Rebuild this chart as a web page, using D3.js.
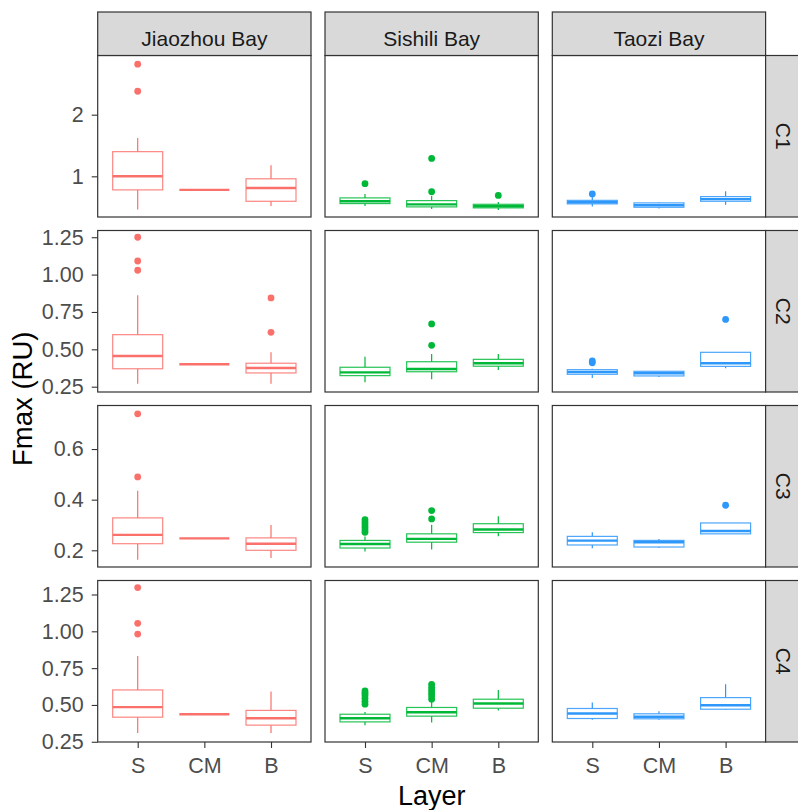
<!DOCTYPE html>
<html><head><meta charset="utf-8">
<script src="https://cdn.jsdelivr.net/npm/d3@7"></script>
<style>body{margin:0;background:#fff}svg{display:block;font-family:"Liberation Sans",Arial,sans-serif}</style>
</head><body><div id="chart"></div>
<script>
const bays = ["Jiaozhou Bay", "Sishili Bay", "Taozi Bay"];
const components = ["C1", "C2", "C3", "C4"];
const layers = ["S", "CM", "B"];
const bayColors = ["#FA716B", "#00B838", "#2E97FA"];

// each: [whiskerLow, q1, median, q3, whiskerHigh] for layers S, CM, B per bay
const statsC1 = [
  [[0.46, 0.78, 1.00, 1.40, 1.62], [0.78, 0.78, 0.78, 0.78, 0.78], [0.52, 0.595, 0.81, 0.96, 1.18]],
  [[0.52, 0.558, 0.595, 0.65, 0.715], [0.47, 0.504, 0.545, 0.606, 0.68], [0.455, 0.488, 0.515, 0.546, 0.585]],
  [[0.51, 0.553, 0.58, 0.61, 0.67], [0.476, 0.498, 0.53, 0.569, 0.575], [0.54, 0.595, 0.63, 0.671, 0.757]]
];
const outliersC1 = [
  [[2.38, 2.82], [], []],
  [[0.88], [0.75, 1.29], [0.69]],
  [[0.715], [], []]
];
const statsC2 = [
  [[0.27, 0.37, 0.455, 0.598, 0.862], [0.40, 0.40, 0.40, 0.40, 0.40], [0.27, 0.342, 0.375, 0.407, 0.48]],
  [[0.28, 0.324, 0.346, 0.38, 0.45], [0.30, 0.35, 0.368, 0.417, 0.469], [0.362, 0.387, 0.407, 0.433, 0.469]],
  [[0.308, 0.333, 0.348, 0.364, 0.37], [0.315, 0.322, 0.34, 0.353, 0.355], [0.373, 0.386, 0.407, 0.48, 0.48]]
];
const outliersC2 = [
  [[1.029, 1.091, 1.25], [], [0.614, 0.844]],
  [[], [0.527, 0.67], []],
  [[0.41, 0.422], [], [0.70]]
];
const statsC3 = [
  [[0.163, 0.226, 0.261, 0.328, 0.435], [0.247, 0.247, 0.247, 0.247, 0.247], [0.17, 0.20, 0.226, 0.249, 0.30]],
  [[0.195, 0.209, 0.225, 0.239, 0.254], [0.203, 0.232, 0.245, 0.265, 0.301], [0.255, 0.27, 0.282, 0.305, 0.334]],
  [[0.208, 0.221, 0.238, 0.255, 0.271], [0.21, 0.213, 0.232, 0.239, 0.245], [0.265, 0.265, 0.276, 0.308, 0.308]]
];
const outliersC3 = [
  [[0.49, 0.739], [], []],
  [[0.271, 0.28, 0.29, 0.30, 0.31, 0.321], [0.324, 0.357], []],
  [[], [], [0.378]]
];
const statsC4 = [
  [[0.309, 0.417, 0.485, 0.602, 0.832], [0.437, 0.437, 0.437, 0.437, 0.437], [0.309, 0.363, 0.41, 0.463, 0.591]],
  [[0.363, 0.385, 0.41, 0.437, 0.453], [0.381, 0.424, 0.45, 0.483, 0.523], [0.463, 0.478, 0.51, 0.539, 0.602]],
  [[0.399, 0.408, 0.442, 0.476, 0.517], [0.399, 0.406, 0.42, 0.44, 0.458], [0.465, 0.471, 0.498, 0.55, 0.64]]
];
const outliersC4 = [
  [[0.981, 1.054, 1.297], [], []],
  [[0.505, 0.525, 0.545, 0.565, 0.58, 0.595], [0.539, 0.56, 0.58, 0.60, 0.62, 0.64], []],
  [[], [], []]
];
const yDomains = [[0.34, 2.96], [0.2145, 1.295], [0.134, 0.772], [0.2485, 1.345]];
const yTicks = [[1, 2], [0.25, 0.5, 0.75, 1.0, 1.25], [0.2, 0.4, 0.6], [0.25, 0.5, 0.75, 1.0, 1.25]];
const yTickFormats = ["d", ".2f", ".1f", ".2f"];

const allStats = [statsC1, statsC2, statsC3, statsC4];
const allOutliers = [outliersC1, outliersC2, outliersC3, outliersC4];

(function () {
const W = 798, H = 810;
const x0 = 97.7, y0 = 55.5, pw = 213.3, ph = 161.5, hgap = 14, vgap = 13.5;
const stripH = 43.5, rightStripW = 35;
const fontFam = "Liberation Sans, Arial, sans-serif";

const svg = d3.select("#chart").append("svg").attr("width", W).attr("height", H);

const x = d3.scalePoint().domain(layers).range([0, pw]).padding(0.6);
const boxW = x.step() * 0.75;
const border = "#333333";

components.forEach((comp, r) => {
  const py = y0 + r * (ph + vgap);
  const y = d3.scaleLinear().domain(yDomains[r]).range([ph, 0]);
  bays.forEach((bay, c) => {
    const px = x0 + c * (pw + hgap);
    const g = svg.append("g").attr("transform", `translate(${px},${py})`);
    g.append("rect").attr("width", pw).attr("height", ph).attr("fill", "#fff");
    const col = bayColors[c];
    layers.forEach((lay, k) => {
      const s = allStats[r][c][k];
      const cx = x(lay);
      const bg = g.append("g");
      bg.append("line").attr("x1", cx).attr("x2", cx).attr("y1", y(s[3])).attr("y2", y(s[4]))
        .attr("stroke", col).attr("stroke-width", 1.2);
      bg.append("line").attr("x1", cx).attr("x2", cx).attr("y1", y(s[1])).attr("y2", y(s[0]))
        .attr("stroke", col).attr("stroke-width", 1.2);
      bg.append("rect").attr("x", cx - boxW / 2).attr("width", boxW)
        .attr("y", y(s[3])).attr("height", Math.max(0, y(s[1]) - y(s[3])))
        .attr("fill", "#fff").attr("stroke", col).attr("stroke-width", 1.2).attr("stroke-opacity", 0.85);
      bg.append("line").attr("x1", cx - boxW / 2).attr("x2", cx + boxW / 2)
        .attr("y1", y(s[2])).attr("y2", y(s[2])).attr("stroke", col).attr("stroke-width", 2.4);
      bg.selectAll("circle").data(allOutliers[r][c][k]).join("circle")
        .attr("cx", cx).attr("cy", d => y(d)).attr("r", 3.4).attr("fill", col);
    });
    g.append("rect").attr("width", pw).attr("height", ph).attr("fill", "none")
      .attr("stroke", border).attr("stroke-width", 1.2);

    if (c === 0) {
      const ya = g.append("g").call(d3.axisLeft(y).tickValues(yTicks[r]).tickFormat(d3.format(yTickFormats[r])).tickSize(6).tickPadding(8));
      ya.select(".domain").remove();
      ya.selectAll("line").attr("stroke", border).attr("stroke-width", 1.1);
      ya.selectAll("text").attr("fill", "#4d4d4d").style("font-size", "21.5px").style("font-family", fontFam);
    }
    if (r === components.length - 1) {
      const xa = g.append("g").attr("transform", `translate(0,${ph})`).call(d3.axisBottom(x).tickSize(6).tickPadding(9.5));
      xa.select(".domain").remove();
      xa.selectAll("line").attr("stroke", border).attr("stroke-width", 1.1);
      xa.selectAll("text").attr("fill", "#4d4d4d").style("font-size", "21.5px").style("font-family", fontFam);
    }
    if (r === 0) {
      const sg = svg.append("g").attr("transform", `translate(${px},${py - stripH})`);
      sg.append("rect").attr("width", pw).attr("height", stripH).attr("fill", "#d9d9d9")
        .attr("stroke", border).attr("stroke-width", 1.2);
      sg.append("text").attr("x", pw / 2).attr("y", 33.5).attr("text-anchor", "middle")
        .attr("fill", "#1a1a1a").style("font-size", "21px").text(bay);
    }
    if (c === bays.length - 1) {
      const rg = svg.append("g").attr("transform", `translate(${px + pw},${py})`);
      rg.append("rect").attr("width", rightStripW).attr("height", ph).attr("fill", "#d9d9d9")
        .attr("stroke", border).attr("stroke-width", 1.2);
      rg.append("text").attr("transform", `translate(${rightStripW / 2 - 7.5},${ph / 2}) rotate(90)`)
        .attr("text-anchor", "middle").attr("fill", "#1a1a1a").style("font-size", "21px").text(comp);
    }
  });
});

const plotBottom = y0 + 4 * ph + 3 * vgap;
svg.append("text").attr("transform", `translate(32,${(y0 + plotBottom) / 2}) rotate(-90)`)
  .attr("text-anchor", "middle").attr("fill", "#000").style("font-size", "27.5px").text("Fmax (RU)");
svg.append("text").attr("x", x0 + (3 * pw + 2 * hgap) / 2).attr("y", 805)
  .attr("text-anchor", "middle").attr("fill", "#000").style("font-size", "27px").text("Layer");
})();
</script></body></html>
